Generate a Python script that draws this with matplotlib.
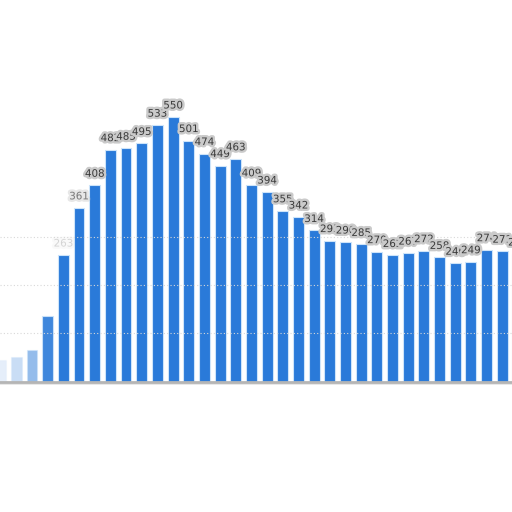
import numpy as np
import matplotlib.pyplot as plt
import matplotlib.patheffects as pe

# values, left to right (first five are the faded ones)
values = [45, 50, 65, 137, 263, 361, 408, 482, 485, 495, 533, 550, 501, 474,
          449, 463, 409, 394, 355, 342, 314, 293, 290, 285, 270, 262, 267,
          272, 258, 246, 249, 274, 271, 265]
fade = [0.12, 0.25, 0.5, 0.9, 1.0] + [1.0] * (len(values) - 5)
label_alpha = [0.0, 0.0, 0.0, 0.0, 0.1, 0.45] + [1.0] * (len(values) - 6)
grid_vals = [100, 200, 300]

x = np.arange(len(values))
px = 15.67          # pixels per bar slot
py = 0.481          # pixels per unit

fig = plt.figure(figsize=(5.12, 5.12), dpi=100)
ax = fig.add_axes([0, 0, 1, 1])
left = 5 - 79 / px
ax.set_xlim(left, left + 512 / px)
ax.set_ylim(-(512 - 381.5) / py, 381.5 / py)
ax.axis('off')

for g in grid_vals:
    ax.axhline(g, color='#d8d8d8', lw=0.8, ls=(0, (1, 2)), zorder=3)

for xi, v, a in zip(x, values, fade):
    ax.bar(xi, v, width=0.7, color='#2a7ad9', alpha=a,
           edgecolor='#cde4fa', linewidth=0.8, zorder=2)

ax.axhline(0, color='#b5b5b5', lw=2, zorder=4)
ax.axhline(-3, color='#e6e6e6', lw=2, zorder=1)

halo = [pe.withStroke(linewidth=3.5, foreground='#cacaca')]
for xi, v, la in zip(x, values, label_alpha):
    if la == 0:
        continue
    ax.text(xi, v + 6.5 / py, str(v), ha='center', va='bottom',
            fontsize=7.4, color='#3a3a3a', alpha=la, path_effects=halo,
            zorder=5, clip_on=False)

fig.savefig('out.png', dpi=100)
